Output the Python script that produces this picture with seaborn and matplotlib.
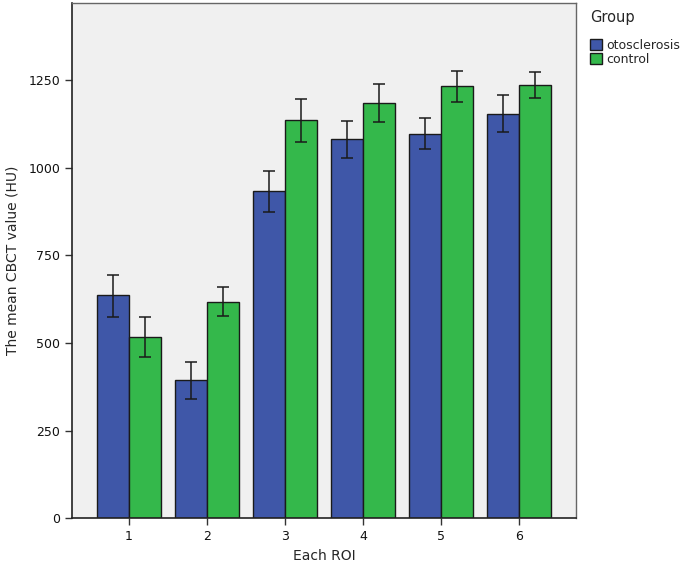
import matplotlib
matplotlib.use("Agg")
import matplotlib.pyplot as plt
import seaborn as sns
import pandas as pd
import numpy as np

rois = ["1", "2", "3", "4", "5", "6"]
groups = ["otosclerosis", "control"]
oto_mean = [636, 394, 933, 1082, 1096, 1153]
oto_lo = [574, 340, 873, 1027, 1053, 1102]
oto_hi = [693, 445, 990, 1133, 1142, 1207]
ctl_mean = [517, 617, 1136, 1184, 1233, 1236]
ctl_lo = [459, 576, 1073, 1130, 1187, 1199]
ctl_hi = [574, 659, 1196, 1239, 1276, 1273]
yticks = [0, 250, 500, 750, 1000, 1250]

df = pd.DataFrame({
    "roi": rois * 2,
    "group": [groups[0]] * 6 + [groups[1]] * 6,
    "mean": oto_mean + ctl_mean,
    "lo": oto_lo + ctl_lo,
    "hi": oto_hi + ctl_hi,
})

sns.set_style("white")
plt.rcParams["font.family"] = ["DejaVu Sans"]

fig = plt.figure(figsize=(6.85, 5.72), dpi=100)
ax = fig.add_axes([0.105, 0.094, 0.736, 0.901])
palette = {"otosclerosis": "#3F57A8", "control": "#34B84B"}
sns.barplot(data=df, x="roi", y="mean", hue="group", hue_order=groups,
            order=rois, palette=palette, errorbar=None, width=0.82,
            edgecolor="#1a1a1a", linewidth=1.0, saturation=1, ax=ax,
            legend=False)

# error bars from bar patch positions
for g, cont in zip(groups, ax.containers):
    sub = df[df["group"] == g].set_index("roi").loc[rois]
    xs = [p.get_x() + p.get_width() / 2 for p in cont.patches]
    ax.errorbar(xs, sub["mean"].values,
                yerr=[sub["mean"].values - sub["lo"].values,
                      sub["hi"].values - sub["mean"].values],
                fmt="none", ecolor="#1a1a1a", elinewidth=1.1, capsize=4,
                capthick=1.1, zorder=5)

ax.set_facecolor("#F0F0F0")
ax.set_xlim(-0.73, 5.73)
ax.set_ylim(0, 1470)
ax.set_yticks(yticks)
ax.set_yticklabels([str(v) for v in yticks])
ax.tick_params(axis="both", direction="out", length=5, width=1, color="#333333",
               labelsize=9, labelcolor="#111111", bottom=True, left=True)
ax.set_xlabel("Each ROI", fontsize=10, labelpad=4)
ax.set_ylabel("The mean CBCT value (HU)", fontsize=10, labelpad=6)
for s in ["left", "bottom"]:
    ax.spines[s].set_color("#222222")
    ax.spines[s].set_linewidth(1.2)
for s in ["top", "right"]:
    ax.spines[s].set_color("#666666")
    ax.spines[s].set_linewidth(1.0)

from matplotlib.patches import Patch
handles = [Patch(facecolor=palette[g], edgecolor="#1a1a1a", label=g) for g in groups]
leg = fig.legend(handles=handles, title="Group", loc="upper left",
                 bbox_to_anchor=(0.848, 0.998), frameon=False, fontsize=9,
                 title_fontsize=10.5, handlelength=1.0, handleheight=1.0,
                 handletextpad=0.3, labelspacing=0.1, borderpad=0.2)
leg._legend_box.align = "left"
leg._legend_box.sep = 10

fig.savefig("out.png", dpi=100)
